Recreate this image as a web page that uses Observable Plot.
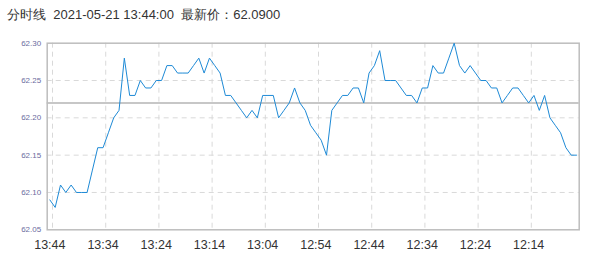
<!DOCTYPE html>
<html><head><meta charset="utf-8">
<script src="https://cdn.jsdelivr.net/npm/d3@7"></script>
<script src="https://cdn.jsdelivr.net/npm/@observablehq/plot@0.6"></script>
<style>
body{margin:0;background:#fff;font-family:"Liberation Sans",Arial,sans-serif;}
#title{height:28px;line-height:29px;padding-left:7px;font-size:13px;color:#333;white-space:pre;overflow:hidden;}
#chart svg{display:block;}
#chart g[aria-label="y-axis tick label"] text{font-size:8px;fill:#6b6b9e;}
#chart g[aria-label="x-axis tick label"] text{font-size:12.5px;fill:#333;}
</style></head><body>
<div id="title"></div>
<div id="chart"></div>
<script>
const titleText = "分时线  2021-05-21 13:44:00  最新价：62.0900";
const prices = [
  62.09, 62.08, 62.11, 62.10, 62.11, 62.10, 62.10, 62.10, 62.13, 62.16,
  62.16, 62.18, 62.20, 62.21, 62.28, 62.23, 62.23, 62.25, 62.24, 62.24,
  62.25, 62.25, 62.27, 62.27, 62.26, 62.26, 62.26, 62.27, 62.28, 62.26,
  62.28, 62.27, 62.26, 62.23, 62.23, 62.22, 62.21, 62.20, 62.21, 62.20,
  62.23, 62.23, 62.23, 62.20, 62.21, 62.22, 62.24, 62.22, 62.21, 62.19,
  62.18, 62.17, 62.15, 62.21, 62.22, 62.23, 62.23, 62.24, 62.24, 62.22,
  62.26, 62.27, 62.29, 62.25, 62.25, 62.25, 62.24, 62.23, 62.23, 62.22,
  62.24, 62.24, 62.27, 62.26, 62.26, 62.28, 62.30, 62.27, 62.26, 62.27,
  62.26, 62.25, 62.25, 62.24, 62.24, 62.22, 62.23, 62.24, 62.24, 62.23,
  62.22, 62.23, 62.21, 62.23, 62.20, 62.19, 62.18, 62.16, 62.15, 62.15
];
const tickLabels = ["13:44","13:34","13:24","13:14","13:04","12:54","12:44","12:34","12:24","12:14"];
const yTicks = [62.05, 62.10, 62.15, 62.20, 62.25, 62.30];
const prevClose = 62.22;

document.getElementById("title").textContent = titleText;

const data = prices.map((price, i) => ({i, price}));
const tickIdx = tickLabels.map((_, k) => k * 10);
const gridIdx = tickIdx.map(i => i + 0.5);

const chart = Plot.plot({
  width: 591,
  height: 233,
  marginTop: 14.7,
  marginBottom: 31.7,
  marginLeft: 46.7,
  marginRight: 12.3,
  style: {fontFamily: "'Liberation Sans', Arial, sans-serif", background: "#fff"},
  x: {domain: [-0.5, prices.length - 0.5]},
  y: {domain: [yTicks[0], yTicks[yTicks.length - 1]]},
  marks: [
    Plot.ruleY(yTicks.slice(1, -1), {stroke: "#d9d9d9", strokeDasharray: "5,4"}),
    Plot.ruleX(gridIdx, {stroke: "#d9d9d9", strokeDasharray: "5,4"}),
    Plot.ruleY([prevClose], {stroke: "#b4b4b4", strokeWidth: 1.5}),
    Plot.frame({stroke: "#bdbdbd", strokeWidth: 1.5}),
    Plot.line(data, {x: "i", y: "price", stroke: "#1e8ad6", strokeWidth: 1}),
    Plot.axisX(tickIdx, {tickSize: 0, tickPadding: 10, label: null,
      tickFormat: i => tickLabels[Math.round(i / 10)]}),
    Plot.axisY(yTicks, {tickSize: 0, tickPadding: 6, label: null,
      tickFormat: d => d.toFixed(2)})
  ]
});
document.getElementById("chart").appendChild(chart);
</script>
</body></html>
